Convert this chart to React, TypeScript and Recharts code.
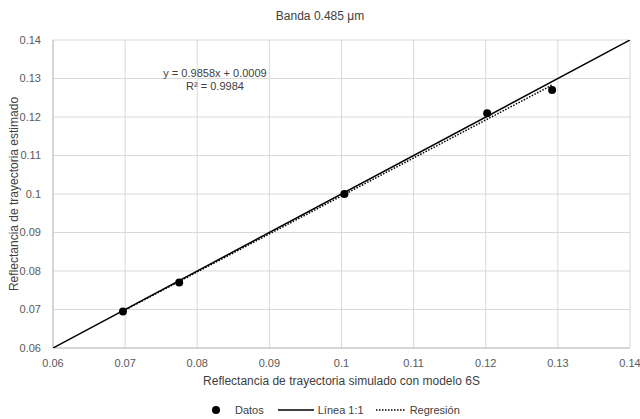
import { ScatterChart, Scatter, XAxis, YAxis, CartesianGrid } from 'recharts';

const datosX = [0.0697, 0.0775, 0.1004, 0.1202, 0.1292];
const datosY = [0.0695, 0.077, 0.1, 0.121, 0.127];
const lineaX = [0.06, 0.14];
const lineaY = [0.06, 0.14];
const regresionX = [0.0697, 0.1292];
const regresionY = [0.0696, 0.1283];
const ticks = [0.06, 0.07, 0.08, 0.09, 0.1, 0.11, 0.12, 0.13, 0.14];

const toPoints = (xs: number[], ys: number[]) => xs.map((x, i) => ({ x, y: ys[i] }));

const datos = toPoints(datosX, datosY);
const linea = toPoints(lineaX, lineaY);
const regresion = toPoints(regresionX, regresionY);

const FONT = '"Liberation Sans", Arial, sans-serif';
const TEXT = '#404040';

const Dot = (props: any) => <circle cx={props.cx} cy={props.cy} r={4} fill="#000" />;
const NoDot = () => <g />;

function LegendRow() {
  return (
    <div style={{ display: 'flex', alignItems: 'center', paddingLeft: 211, fontSize: 11, color: TEXT, fontFamily: FONT }}>
      <svg width={10} height={10}><circle cx={5} cy={5} r={4} fill="#000" /></svg>
      <span style={{ marginLeft: 14, marginRight: 14 }}>Datos</span>
      <svg width={36} height={10}><line x1={0} y1={5} x2={36} y2={5} stroke="#000" strokeWidth={1.5} /></svg>
      <span style={{ marginLeft: 4, marginRight: 12 }}>Línea 1:1</span>
      <svg width={30} height={10}><line x1={0} y1={5} x2={30} y2={5} stroke="#000" strokeWidth={1.5} strokeDasharray="1.5 1.5" /></svg>
      <span style={{ marginLeft: 4 }}>Regresión</span>
    </div>
  );
}

export default function App() {
  const tick = { fill: '#595959', fontSize: 11, fontFamily: FONT };
  return (
    <div style={{ position: 'absolute', left: 0, top: 0, width: 640, height: 419, background: '#fff', fontFamily: FONT }}>
      <ScatterChart width={640} height={419} margin={{ top: 40, right: 10, bottom: 51, left: 13 }}>
        <CartesianGrid stroke="#d9d9d9" strokeWidth={1} />
        <XAxis
          type="number"
          dataKey="x"
          domain={[0.06, 0.14]}
          ticks={ticks}
          tickLine={false}
          axisLine={{ stroke: '#bfbfbf' }}
          tick={tick}
          tickMargin={5}
          height={20}
          allowDataOverflow
        />
        <YAxis
          type="number"
          dataKey="y"
          domain={[0.06, 0.14]}
          ticks={ticks}
          tickLine={false}
          axisLine={{ stroke: '#bfbfbf' }}
          tick={tick}
          tickMargin={6}
          width={40}
          allowDataOverflow
        />
        <Scatter data={linea} line={{ stroke: '#000', strokeWidth: 1.5 }} shape={NoDot} isAnimationActive={false} legendType="none" />
        <Scatter
          data={regresion}
          line={{ stroke: '#000', strokeWidth: 1.5, strokeDasharray: '1.5 1.5' }}
          shape={NoDot}
          isAnimationActive={false}
          legendType="none"
        />
        <Scatter data={datos} shape={Dot} isAnimationActive={false} />
      </ScatterChart>
      <div style={{ position: 'absolute', top: 9, width: 640, textAlign: 'center', fontSize: 12, color: TEXT }}>
        Banda 0.485 μm
      </div>
      <div style={{ position: 'absolute', left: 85, top: 67, width: 260, textAlign: 'center', fontSize: 11, color: TEXT, lineHeight: '13px' }}>
        <div>y = 0.9858x + 0.0009</div>
        <div>R² = 0.9984</div>
      </div>
      <svg style={{ position: 'absolute', left: 0, top: 0 }} width={30} height={419}>
        <text
          transform="rotate(-90)"
          x={-194}
          y={18}
          textAnchor="middle"
          fontSize={12}
          fill={TEXT}
          fontFamily={FONT}
        >
          Reflectancia de trayectoria estimado
        </text>
      </svg>
      <div style={{ position: 'absolute', top: 374, left: 53, width: 577, textAlign: 'center', fontSize: 12, color: TEXT }}>
        Reflectancia de trayectoria simulado con modelo 6S
      </div>
      <div style={{ position: 'absolute', top: 404, left: 0, width: 640 }}>
        <LegendRow />
      </div>
    </div>
  );
}
